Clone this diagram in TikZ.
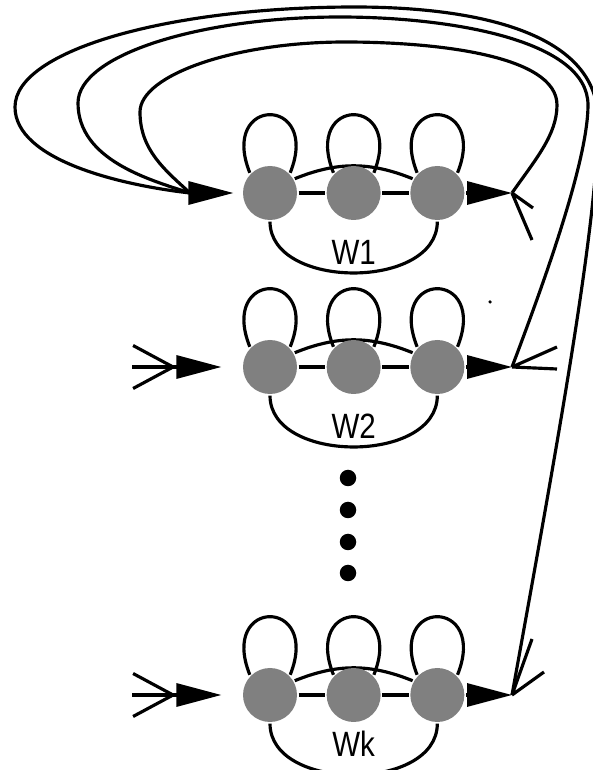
\documentclass[tikz,border=0pt]{standalone}
\usepackage{fontspec}
\setmainfont{Liberation Sans}
\usetikzlibrary{arrows.meta,positioning,backgrounds}

\begin{document}
\begin{tikzpicture}[
  state/.style={circle, fill=black!50, minimum size=1.08cm, inner sep=0pt},
  blob/.style={circle, fill=black, minimum size=0.33cm, inner sep=0pt},
  wlabel/.style={font=\fontsize{20}{20}\selectfont, xscale=0.84, inner sep=0pt},
  wire/.style={line width=1.8pt},
  into/.style={-{Triangle[length=0.9cm, width=0.46cm]}},
  feed/.style={-{Straight Barb[length=0.8cm, width=0.86cm, sep=0pt]Triangle[length=0.9cm, width=0.46cm]}},
  wire, node distance=0.53cm
]
\useasboundingbox (0,0) rectangle (11.86,15.4);

% the three blocks W1, W2, Wk
\foreach \r/\y/\sh in {1/11.54/0.34, 2/8.06/0.34, k/1.50/0.11} {
  \node [state] (w\r a) at (5.40,\y) {};
  \node [state, right=of w\r a] (w\r b) {};
  \node [state, right=of w\r b] (w\r c) {};
  \node [wlabel, below=\sh cm of w\r b] (lab\r) {W\r};
  \begin{scope}[on background layer={wire}]
    \path (w\r a) edge (w\r b)
          (w\r b) edge (w\r c)
          (w\r a.30) edge [bend left=22] (w\r c.150)
          (w\r a.south) edge [out=-90, in=-90, looseness=1.05] (w\r c.south);
    \foreach \s in {a,b,c}
      \draw (w\r\s.135) .. controls +(-0.62,1.55) and +(0.62,1.55) .. (w\r\s.45);
  \end{scope}
}

% dots between W2 and Wk
\foreach \y [count=\i] in {5.84,5.20,4.56,3.94}
  \node [blob] (dot\i) at (6.96,\y) {};
\node [circle, fill, minimum size=0.07cm, inner sep=0pt] (speck) at (9.80,9.36) {};

% inputs and outputs
\coordinate (in1) at (3.80,11.54);
\coordinate (in2) at (2.64,8.06);
\coordinate (ink) at (2.64,1.50);
\coordinate (out1) at (10.24,11.54);
\coordinate (out2) at (10.24,8.06);
\coordinate (outk) at (10.24,1.50);

\draw [into, shorten >=0.16cm] (in1) -- (w1a);
\draw [feed, shorten >=0.4cm] (in2) -- (w2a);
\draw [feed, shorten >=0.4cm] (ink) -- (wka);
\draw [into] (w1c) -- (out1);
\draw [into] (w2c) -- (out2);
\draw [into] (wkc) -- (outk);

% open heads at the outputs
\draw (out1) -- ++(0.42,-0.30) (out1) -- ++(0.40,-0.94);
\draw (out2) -- ++(0.90,0.40) (out2) -- ++(0.90,-0.04);
\draw (outk) -- ++(0.40,1.12) (outk) -- ++(0.64,0.46);

% feedback back to W1
\draw (out1) .. controls (10.70,12.20) and (11.14,12.70) .. (11.14,13.30)
  .. controls (11.14,14.30) and (8.70,14.56) .. (6.90,14.56)
  .. controls (4.70,14.56) and (2.80,13.90) .. (2.80,13.16)
  .. controls (2.80,12.40) and (3.30,12.00) .. (in1);
\draw (out2) .. controls (10.90,9.80) and (11.76,12.20) .. (11.76,13.30)
  .. controls (11.76,14.60) and (9.00,15.06) .. (6.80,15.06)
  .. controls (4.00,15.06) and (1.56,14.30) .. (1.56,13.34)
  .. controls (1.56,12.20) and (3.00,11.80) .. (in1);
\draw (outk) .. controls (11.20,6.80) and (11.96,11.00) .. (11.96,13.00)
  .. controls (11.96,14.80) and (9.40,15.26) .. (7.10,15.26)
  .. controls (3.40,15.26) and (0.30,14.40) .. (0.30,13.26)
  .. controls (0.30,12.20) and (2.40,11.70) .. (in1);
\end{tikzpicture}
\end{document}
